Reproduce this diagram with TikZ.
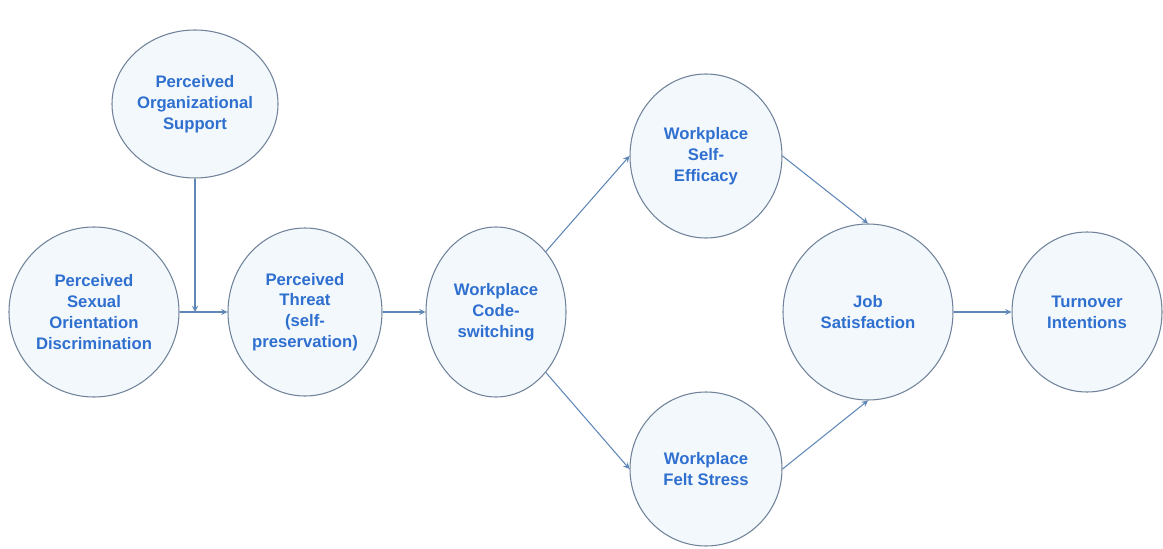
\documentclass[tikz,border=0pt]{standalone}
\usepackage{fontspec}
\setmainfont{Liberation Sans}
\usepackage{tikz}
\usetikzlibrary{shapes.geometric}
\definecolor{nodefill}{HTML}{F3F8FD}
\definecolor{nodeline}{HTML}{6F8299}
\definecolor{arrowline}{HTML}{5E87B8}
\definecolor{labelblue}{HTML}{2E6FCF}
\begin{document}
\begin{tikzpicture}[auto,
    var/.style={ellipse, draw=nodeline, fill=nodefill, line width=0.6pt, inner sep=0pt,
      align=center, text=labelblue, font=\fontsize{9.5}{11.8}\selectfont\bfseries},
    link/.style={->, >=stealth, draw=arrowline, line width=0.6pt}]
      \useasboundingbox (0,0) rectangle (23.26,10.96);
      \node[var, minimum width=3.32cm, minimum height=2.96cm] (pos) at (3.90, 8.88) {Perceived\\Organizational\\Support};
      \node[var, minimum width=3.40cm, minimum height=3.40cm] (psod) at (1.88, 4.72) {Perceived\\Sexual\\Orientation\\Discrimination};
      \node[var, minimum width=3.08cm, minimum height=3.36cm] (pt) at (6.10, 4.72) {Perceived\\Threat\\(self-\\preservation)};
      \node[var, minimum width=2.80cm, minimum height=3.40cm] (wcs) at (9.92, 4.72) {Workplace\\Code-\\switching};
      \node[var, minimum width=3.04cm, minimum height=3.28cm] (wse) at (14.12, 7.84) {Workplace\\Self-\\Efficacy};
      \node[var, minimum width=3.04cm, minimum height=3.08cm] (wfs) at (14.12, 1.58) {Workplace\\Felt Stress};
      \node[var, minimum width=3.40cm, minimum height=3.52cm] (js) at (17.36, 4.72) {Job\\Satisfaction};
      \node[var, minimum width=3.00cm, minimum height=3.20cm] (ti) at (21.74, 4.72) {Turnover\\Intentions};
      \coordinate (m) at (pos |- psod.east);
      \draw [link] (pos) to (m);
      \draw [link] (psod) to (pt);
      \draw [link] (pt) to (wcs);
      \draw [link] (wcs.north east) to (wse.west);
      \draw [link] (wcs.south east) to (wfs.west);
      \draw [link] (wse.east) to (js.north);
      \draw [link] (wfs.east) to (js.south);
      \draw [link] (js) to (ti);
\end{tikzpicture}
\end{document}
